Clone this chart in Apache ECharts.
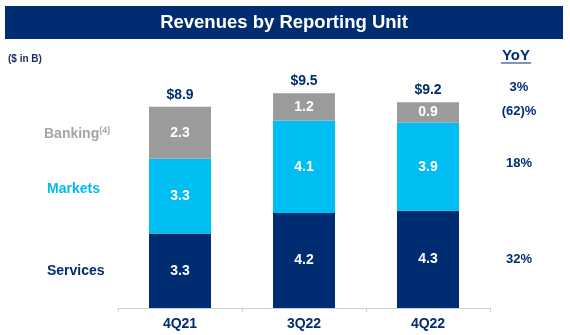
<!DOCTYPE html>
<html>
<head>
<meta charset="utf-8">
<script src="https://cdn.jsdelivr.net/npm/echarts@6/dist/echarts.min.js"></script>
<style>
html,body{margin:0;padding:0;background:#fff;}
#c{width:570px;height:335px;}
</style>
</head>
<body>
<div id="c"></div>
<script>
const categories = ['4Q21', '3Q22', '4Q22'];
const services = [3.3, 4.2, 4.3];
const markets = [3.3, 4.1, 3.9];
const banking = [2.3, 1.2, 0.9];
const totals = [8.9, 9.5, 9.2];
const yoyLabels = ['3%', '(62)%', '18%', '32%'];
const unitLabels = ['Banking', 'Markets', 'Services'];

const NAVY = '#002D72';
const CYAN = '#00BDF2';
const GRAY = '#9B9B9B';
const FONT = 'Liberation Sans, Arial, sans-serif';

const chart = echarts.init(document.getElementById('c'));

const innerLabel = {
  show: true, position: 'inside', color: '#fff',
  fontFamily: FONT, fontWeight: 'bold', fontSize: 14,
  formatter: p => p.value.toFixed(1)
};

const option = {
  animation: false,
  backgroundColor: '#fff',
  grid: {left: 118, right: 80, top: 82, bottom: 27},
  xAxis: {
    type: 'category', data: categories,
    axisLine: {lineStyle: {color: '#D0D0D0', width: 1}},
    axisTick: {show: true, length: 4, lineStyle: {color: '#D0D0D0'}},
    axisLabel: {color: NAVY, fontFamily: FONT, fontWeight: 'bold', fontSize: 14, margin: 9}
  },
  yAxis: {type: 'value', min: 0, max: 10, show: false, splitLine: {show: false}},
  series: [
    {name: 'Services', type: 'bar', stack: 'a', barWidth: '50%', data: services,
     itemStyle: {color: NAVY}, label: innerLabel},
    {name: 'Markets', type: 'bar', stack: 'a', data: markets,
     itemStyle: {color: CYAN}, label: innerLabel},
    {name: 'Banking', type: 'bar', stack: 'a', data: banking,
     itemStyle: {color: GRAY}, label: innerLabel},
    {name: 'Total', type: 'bar', stack: 'a', data: totals.map(() => 0),
     itemStyle: {color: 'transparent'},
     label: {show: true, position: 'top', distance: 5, color: NAVY,
             fontFamily: FONT, fontWeight: 'bold', fontSize: 14,
             formatter: p => '$' + totals[p.dataIndex].toFixed(1)}}
  ],
  graphic: [
    {type: 'rect', shape: {x: 5, y: 6, width: 558, height: 33}, style: {fill: NAVY}, z: 10},
    {type: 'text', x: 284, y: 23, z: 11,
     style: {text: 'Revenues by Reporting Unit', fill: '#fff', font: 'bold 18.5px ' + FONT,
             textAlign: 'center', textVerticalAlign: 'middle'}},
    {type: 'text', x: 8, y: 59, z: 11,
     style: {text: '($ in B)', fill: '#1A2A5A', font: 'bold 10px ' + FONT,
             textAlign: 'left', textVerticalAlign: 'middle'}},
    {type: 'text', x: 516, y: 56, z: 11,
     style: {text: 'YoY', fill: NAVY, font: 'bold 15px ' + FONT,
             textAlign: 'center', textVerticalAlign: 'middle'}},
    {type: 'line', z: 11, shape: {x1: 501, y1: 63, x2: 531, y2: 63},
     style: {stroke: NAVY, lineWidth: 1}},
    {type: 'text', x: 519, y: 87, z: 11,
     style: {text: yoyLabels[0], fill: NAVY, font: 'bold 13px ' + FONT, textAlign: 'center', textVerticalAlign: 'middle'}},
    {type: 'text', x: 519, y: 111, z: 11,
     style: {text: yoyLabels[1], fill: NAVY, font: 'bold 13px ' + FONT, textAlign: 'center', textVerticalAlign: 'middle'}},
    {type: 'text', x: 519, y: 163, z: 11,
     style: {text: yoyLabels[2], fill: NAVY, font: 'bold 13px ' + FONT, textAlign: 'center', textVerticalAlign: 'middle'}},
    {type: 'text', x: 519, y: 259, z: 11,
     style: {text: yoyLabels[3], fill: NAVY, font: 'bold 13px ' + FONT, textAlign: 'center', textVerticalAlign: 'middle'}},
    {type: 'text', x: 44, y: 134, z: 11,
     style: {text: '{a|' + unitLabels[0] + '}{s|(4)}', fill: '#A5A5A5',
             rich: {a: {fill: '#A5A5A5', font: 'bold 14px ' + FONT},
                    s: {fill: '#A5A5A5', font: 'bold 9px ' + FONT, verticalAlign: 'top', padding: [0, 0, 7, 0]}},
             textAlign: 'left', textVerticalAlign: 'middle'}},
    {type: 'text', x: 47, y: 189, z: 11,
     style: {text: unitLabels[1], fill: CYAN, font: 'bold 14px ' + FONT,
             textAlign: 'left', textVerticalAlign: 'middle'}},
    {type: 'text', x: 47, y: 271, z: 11,
     style: {text: unitLabels[2], fill: NAVY, font: 'bold 14px ' + FONT,
             textAlign: 'left', textVerticalAlign: 'middle'}}
  ]
};
chart.setOption(option);
</script>
</body>
</html>
